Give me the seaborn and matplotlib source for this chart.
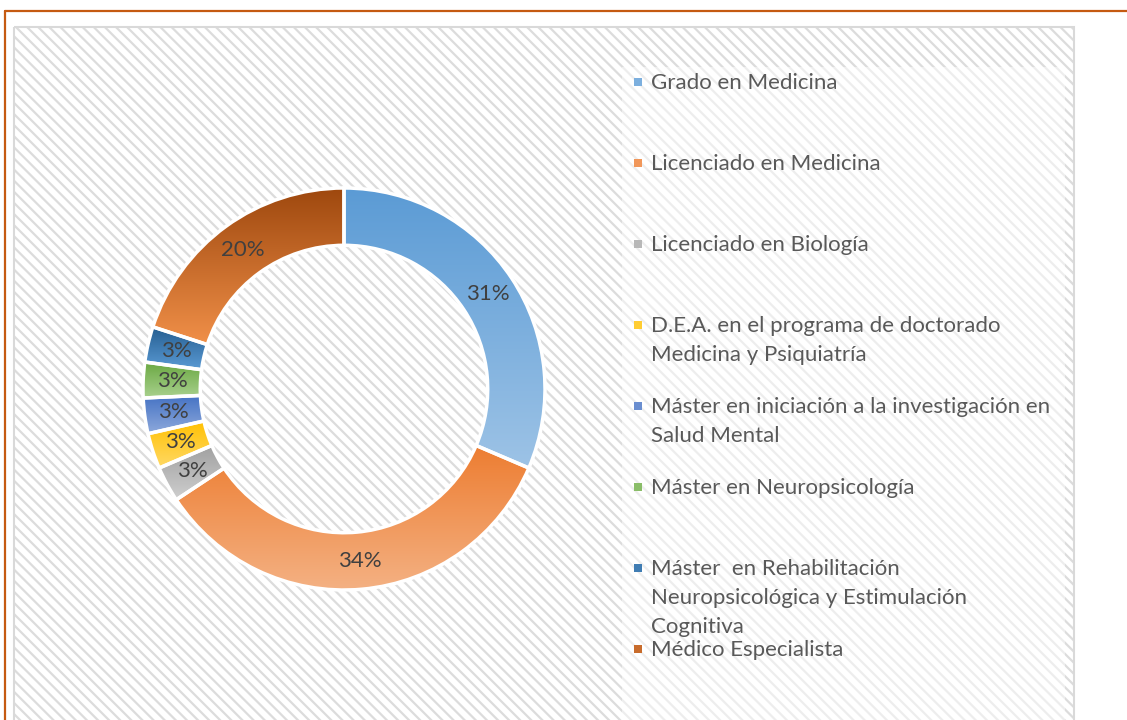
import numpy as np
import matplotlib.pyplot as plt
import seaborn as sns
from matplotlib.patches import Rectangle


# ======================================================
# 1. DATA
# ======================================================
categories = [
    "Grado en Medicina",
    "Licenciado en Medicina",
    "Licenciado en Biología",
    "D.E.A. en el programa de doctorado\nMedicina y Psiquiatría",
    "Máster en iniciación a la investigación en\nSalud Mental",
    "Máster en Neuropsicología",
    "Máster  en Rehabilitación\nNeuropsicológica y Estimulación\nCognitiva",
    "Médico Especialista",
]
counts = [11, 12, 1, 1, 1, 1, 1, 7]

# gradient per slice: colour at top -> colour at bottom
top_colors = ["#5B9BD5", "#ED7D31", "#A0A0A0", "#FFC000",
              "#4472C4", "#6AA842", "#255E91", "#9E480E"]
bottom_colors = ["#9DC3E6", "#F4B183", "#CFCFCF", "#FFD966",
                 "#8FAADC", "#A9D18E", "#5B9BD5", "#F19049"]


# ======================================================
# 2. FIGURE + BACKGROUND
# ======================================================
W, H = 1127, 720
sns.set_theme(style="white")
plt.rcParams["font.family"] = ["Lato", "DejaVu Sans"]
plt.rcParams["hatch.linewidth"] = 1.6

fig = plt.figure(figsize=(W / 100, H / 100), dpi=100)
fig.patch.set_facecolor("white")

bg = fig.add_axes([0, 0, 1, 1])
bg.set_xlim(0, W)
bg.set_ylim(H, 0)
bg.axis("off")

# hatched chart area
bg.add_patch(Rectangle((14, 27), 1060, 720, facecolor="white",
                       edgecolor="#DCDCDC", hatch="\\\\\\", linewidth=0))
# lighter legend region
bg.add_patch(Rectangle((622, 67), 443, 680, facecolor="white",
                       alpha=0.5, linewidth=0))
# chart area border
bg.add_patch(Rectangle((14, 27), 1060, 720, fill=False,
                       edgecolor="#D9D9D9", linewidth=1.5))
# outer orange frame
bg.plot([5, 5], [11, H], color="#C55A11", linewidth=1.6)
bg.plot([5, W], [11, 11], color="#C55A11", linewidth=1.6)


# ======================================================
# 3. DONUT
# ======================================================
ax = fig.add_axes([143 / W, 1 - 590 / H, 402 / W, 402 / H])
wedges, _, autotexts = ax.pie(
    counts,
    startangle=90,
    counterclock=False,
    radius=1.0,
    wedgeprops=dict(width=0.285, edgecolor="white", linewidth=2.5),
    autopct=lambda p: f"{p:.0f}%",
    pctdistance=0.857,
    textprops=dict(color="#404040", fontsize=16),
)

for w, c0, c1 in zip(wedges, top_colors, bottom_colors):
    bb = w.get_path().get_extents()
    grad = np.array(sns.blend_palette([c0, c1], n_colors=256))[:, None, :]
    im = ax.imshow(grad, extent=[bb.x0, bb.x1, bb.y0, bb.y1],
                   origin="upper", aspect="auto",
                   interpolation="bilinear", zorder=1)
    im.set_clip_path(w)
    w.set_facecolor("none")
    w.set_zorder(2)

for t in autotexts:
    t.set_zorder(3)

ax.set_xlim(-1, 1)
ax.set_ylim(-1, 1)
ax.set_aspect("equal")
ax.axis("off")


# ======================================================
# 4. LEGEND (right side)
# ======================================================
for i, (label, c0, c1) in enumerate(zip(categories, top_colors, bottom_colors)):
    base = 89 + 81 * i
    mid = sns.blend_palette([c0, c1], 3)[1]
    bg.add_patch(Rectangle((634, base - 11), 8, 8, facecolor=mid, linewidth=0))
    for j, line in enumerate(label.split("\n")):
        bg.text(651, base + 29 * j, line, fontsize=16, color="#595959",
                va="baseline", ha="left")

fig.savefig("out.png", dpi=100)
